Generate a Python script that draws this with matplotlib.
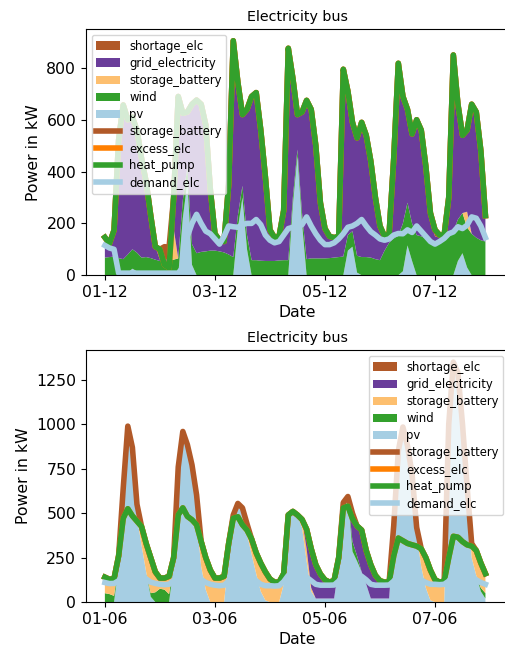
import numpy as np
import pandas as pd
import matplotlib
matplotlib.use("Agg")
import matplotlib.pyplot as plt
import matplotlib.dates as mdates
from matplotlib.ticker import MultipleLocator

# two-hourly values (kW), one row per day
# --- december week ---
dec_supply = [146, 122, 174, 522, 657, 600, 610, 560, 450, 360, 230, 110,
              100, 110, 108, 300, 690, 625, 630, 660, 676, 660, 580, 330,
              160, 135, 130, 350, 905, 745, 620, 640, 690, 705, 560, 380,
              175, 145, 150, 250, 876, 760, 620, 630, 675, 640, 500, 280,
              180, 150, 145, 150, 795, 710, 590, 530, 590, 540, 440, 300,
              190, 150, 160, 450, 818, 690, 640, 545, 600, 560, 420, 240,
              175, 155, 155, 300, 850, 660, 540, 560, 660, 630, 480, 230]
dec_pv = [0, 0, 0, 0, 0, 10, 25, 15, 0, 0, 0, 0,
          0, 0, 0, 0, 0, 220, 360, 40, 0, 0, 0, 0,
          0, 0, 0, 0, 0, 180, 300, 100, 0, 0, 0, 0,
          0, 0, 0, 0, 0, 270, 460, 200, 0, 0, 0, 0,
          0, 0, 0, 0, 0, 95, 110, 10, 0, 0, 0, 0,
          0, 0, 0, 0, 0, 15, 115, 55, 0, 0, 0, 0,
          0, 0, 0, 0, 0, 55, 85, 30, 0, 0, 0, 0]
dec_wind = [68, 70, 72, 66, 62, 70, 75, 72, 68, 70, 66, 60,
            55, 55, 58, 60, 65, 70, 60, 80, 85, 90, 92, 95,
            95, 92, 88, 80, 70, 50, 45, 55, 58, 58, 56, 55,
            55, 55, 57, 58, 58, 30, 25, 40, 62, 65, 65, 65,
            65, 66, 68, 70, 72, 60, 60, 65, 70, 70, 68, 62,
            58, 95, 125, 142, 152, 185, 165, 145, 155, 150, 142, 132,
            130, 140, 142, 150, 170, 160, 155, 155, 160, 145, 135, 130]
dec_storage_in = [0] * 15 + [120] + [0] * 63 + [60] + [0] * 4
dec_shortage = [0] * 12 + [40, 50, 45] + [0] * 57 + [25, 10] + [0] * 10
dec_demand = [115, 105, 100, 8, 8, 8, 8, 8, 8, 8, 8, 8,
              8, 8, 8, 8, 8, 30, 150, 200, 235, 200, 170, 160,
              140, 120, 150, 190, 187, 185, 195, 200, 200, 215, 195, 155,
              135, 125, 130, 155, 180, 185, 185, 195, 225, 190, 160, 135,
              118, 118, 125, 140, 160, 185, 190, 200, 215, 190, 168, 155,
              140, 135, 140, 155, 161, 160, 175, 165, 190, 170, 150, 130,
              120, 130, 142, 160, 167, 187, 180, 193, 225, 220, 190, 145]
dec_charge = [0] * 13 + [70, 80] + [0] * 69
dec_excess = [0] * 84

# --- june week ---
jun_supply = [140, 128, 132, 260, 640, 990, 870, 550, 425, 330, 250, 170,
              135, 135, 145, 250, 760, 960, 885, 772, 603, 341, 250, 180,
              135, 135, 145, 330, 490, 555, 530, 440, 355, 277, 219, 170,
              130, 112, 112, 160, 490, 510, 490, 465, 410, 300, 210, 158,
              125, 112, 122, 250, 560, 594, 500, 428, 405, 290, 210, 150,
              120, 112, 114, 430, 850, 985, 880, 720, 420, 300, 250, 180,
              126, 112, 118, 1000, 1350, 1290, 1000, 650, 330, 290, 220, 160]
jun_heat_line = [140, 128, 132, 260, 472, 525, 485, 455, 425, 330, 250, 170,
                 135, 135, 145, 250, 491, 530, 482, 463, 435, 341, 250, 180,
                 135, 135, 145, 330, 472, 480, 435, 405, 355, 277, 219, 170,
                 130, 112, 112, 160, 490, 510, 490, 465, 410, 300, 210, 158,
                 125, 112, 122, 250, 530, 540, 470, 428, 405, 290, 210, 150,
                 120, 112, 114, 260, 360, 345, 330, 322, 315, 300, 250, 180,
                 126, 112, 118, 250, 370, 365, 340, 322, 315, 290, 220, 160]
jun_pv = [0, 0, 0, 200, 640, 990, 870, 480, 320, 170, 30, 0,
          0, 0, 0, 200, 760, 960, 885, 772, 480, 200, 70, 0,
          0, 0, 0, 260, 490, 555, 500, 380, 270, 160, 60, 10,
          0, 0, 0, 100, 490, 510, 490, 420, 230, 60, 20, 20,
          20, 20, 20, 200, 560, 594, 285, 230, 170, 100, 20, 20,
          20, 20, 20, 400, 850, 985, 880, 720, 380, 200, 80, 10,
          0, 0, 0, 960, 1350, 1290, 1000, 650, 250, 150, 60, 20]
jun_wind = ([50, 45, 35, 15, 0, 0, 0, 0, 0, 0, 20, 55,
             75, 70, 45, 10] + [0] * 38 + [56, 30] + [0] * 26 + [20, 30])
jun_grid = ([0] * 44 + [110, 220, 190, 138,
                        105, 92, 102, 50, 0, 0, 159, 168, 235, 190, 190, 130,
                        100, 92, 94, 30] + [0] * 20)
jun_shortage = [0] * 84
jun_demand = [110, 104, 105, 120, 150, 160, 160, 155, 150, 130, 112, 105,
              100, 98, 100, 120, 150, 160, 158, 155, 148, 128, 110, 100,
              95, 92, 95, 118, 150, 160, 158, 150, 140, 120, 100, 92,
              92, 90, 92, 115, 150, 160, 158, 150, 140, 120, 100, 95,
              95, 95, 96, 118, 150, 160, 158, 150, 145, 125, 100, 95,
              95, 95, 96, 118, 150, 160, 158, 150, 145, 125, 110, 100,
              100, 98, 100, 118, 150, 160, 158, 150, 145, 125, 110, 100]
jun_excess = [0] * 84

in_labels = ["pv", "wind", "storage_battery", "grid_electricity", "shortage_elc"]
in_colors = ["#a6cee3", "#33a02c", "#fdbf6f", "#6a3d9a", "#b15928"]
out_labels = ["demand_elc", "heat_pump", "excess_elc", "storage_battery"]
out_colors = ["#a6cee3", "#33a02c", "#ff7f00", "#b15928"]

dec_time = pd.date_range("2023-12-01", periods=84, freq="2h")
jun_time = pd.date_range("2023-06-01", periods=84, freq="2h")

# balance the buses: grid / storage discharge close the gap to the total
dec_grid = (np.array(dec_supply) - np.array(dec_pv) - np.array(dec_wind)
            - np.array(dec_storage_in) - np.array(dec_shortage))
dec_heat_pump = (np.array(dec_supply) - np.array(dec_charge)
                 - np.array(dec_excess) - np.array(dec_demand))
jun_storage_in = (np.array(jun_supply) - np.array(jun_pv) - np.array(jun_wind)
                  - np.array(jun_grid) - np.array(jun_shortage))
jun_charge = np.array(jun_supply) - np.array(jun_heat_line)
jun_heat_pump = np.array(jun_heat_line) - np.array(jun_demand)


def bus_plot(ax, time, inputs, outputs, legend_loc):
    polys = ax.stackplot(time, *inputs, colors=in_colors, labels=in_labels)
    cum = np.cumsum(np.array(outputs, dtype=float), axis=0)
    lines = []
    for i in range(len(outputs) - 1, -1, -1):
        ln, = ax.plot(time, cum[i], color=out_colors[i], lw=4,
                      label=out_labels[i])
        lines.append(ln)
    handles = polys[::-1] + lines
    ax.legend(handles=handles, labels=[h.get_label() for h in handles],
              loc=legend_loc, fontsize=8.4, labelspacing=0.35)
    ax.set_title("Electricity bus", fontsize=10.3)
    ax.set_xlabel("Date", fontsize=11.3)
    ax.set_ylabel("Power in kW", fontsize=11.3)
    ax.xaxis.set_major_locator(mdates.DayLocator(bymonthday=range(1, 32, 2)))
    ax.xaxis.set_major_formatter(mdates.DateFormatter("%d-%m"))
    ax.tick_params(labelsize=11.3)
    ax.set_xlim(time[0] - pd.Timedelta(hours=8.3),
                time[0] + pd.Timedelta(hours=176.3))


fig = plt.figure(figsize=(5.05, 6.46), dpi=100)
ax1 = fig.add_axes([0.170, 0.574, 0.838, 0.381])
ax2 = fig.add_axes([0.170, 0.068, 0.838, 0.390])

bus_plot(ax1, dec_time,
         [dec_pv, dec_wind, dec_storage_in, dec_grid, dec_shortage],
         [dec_demand, dec_heat_pump, dec_excess, dec_charge], "upper left")
ax1.yaxis.set_major_locator(MultipleLocator(200))

bus_plot(ax2, jun_time,
         [jun_pv, jun_wind, jun_storage_in, jun_grid, jun_shortage],
         [jun_demand, jun_heat_pump, jun_excess, jun_charge], "upper right")
ax2.yaxis.set_major_locator(MultipleLocator(250))

fig.savefig("out.png", dpi=100)
